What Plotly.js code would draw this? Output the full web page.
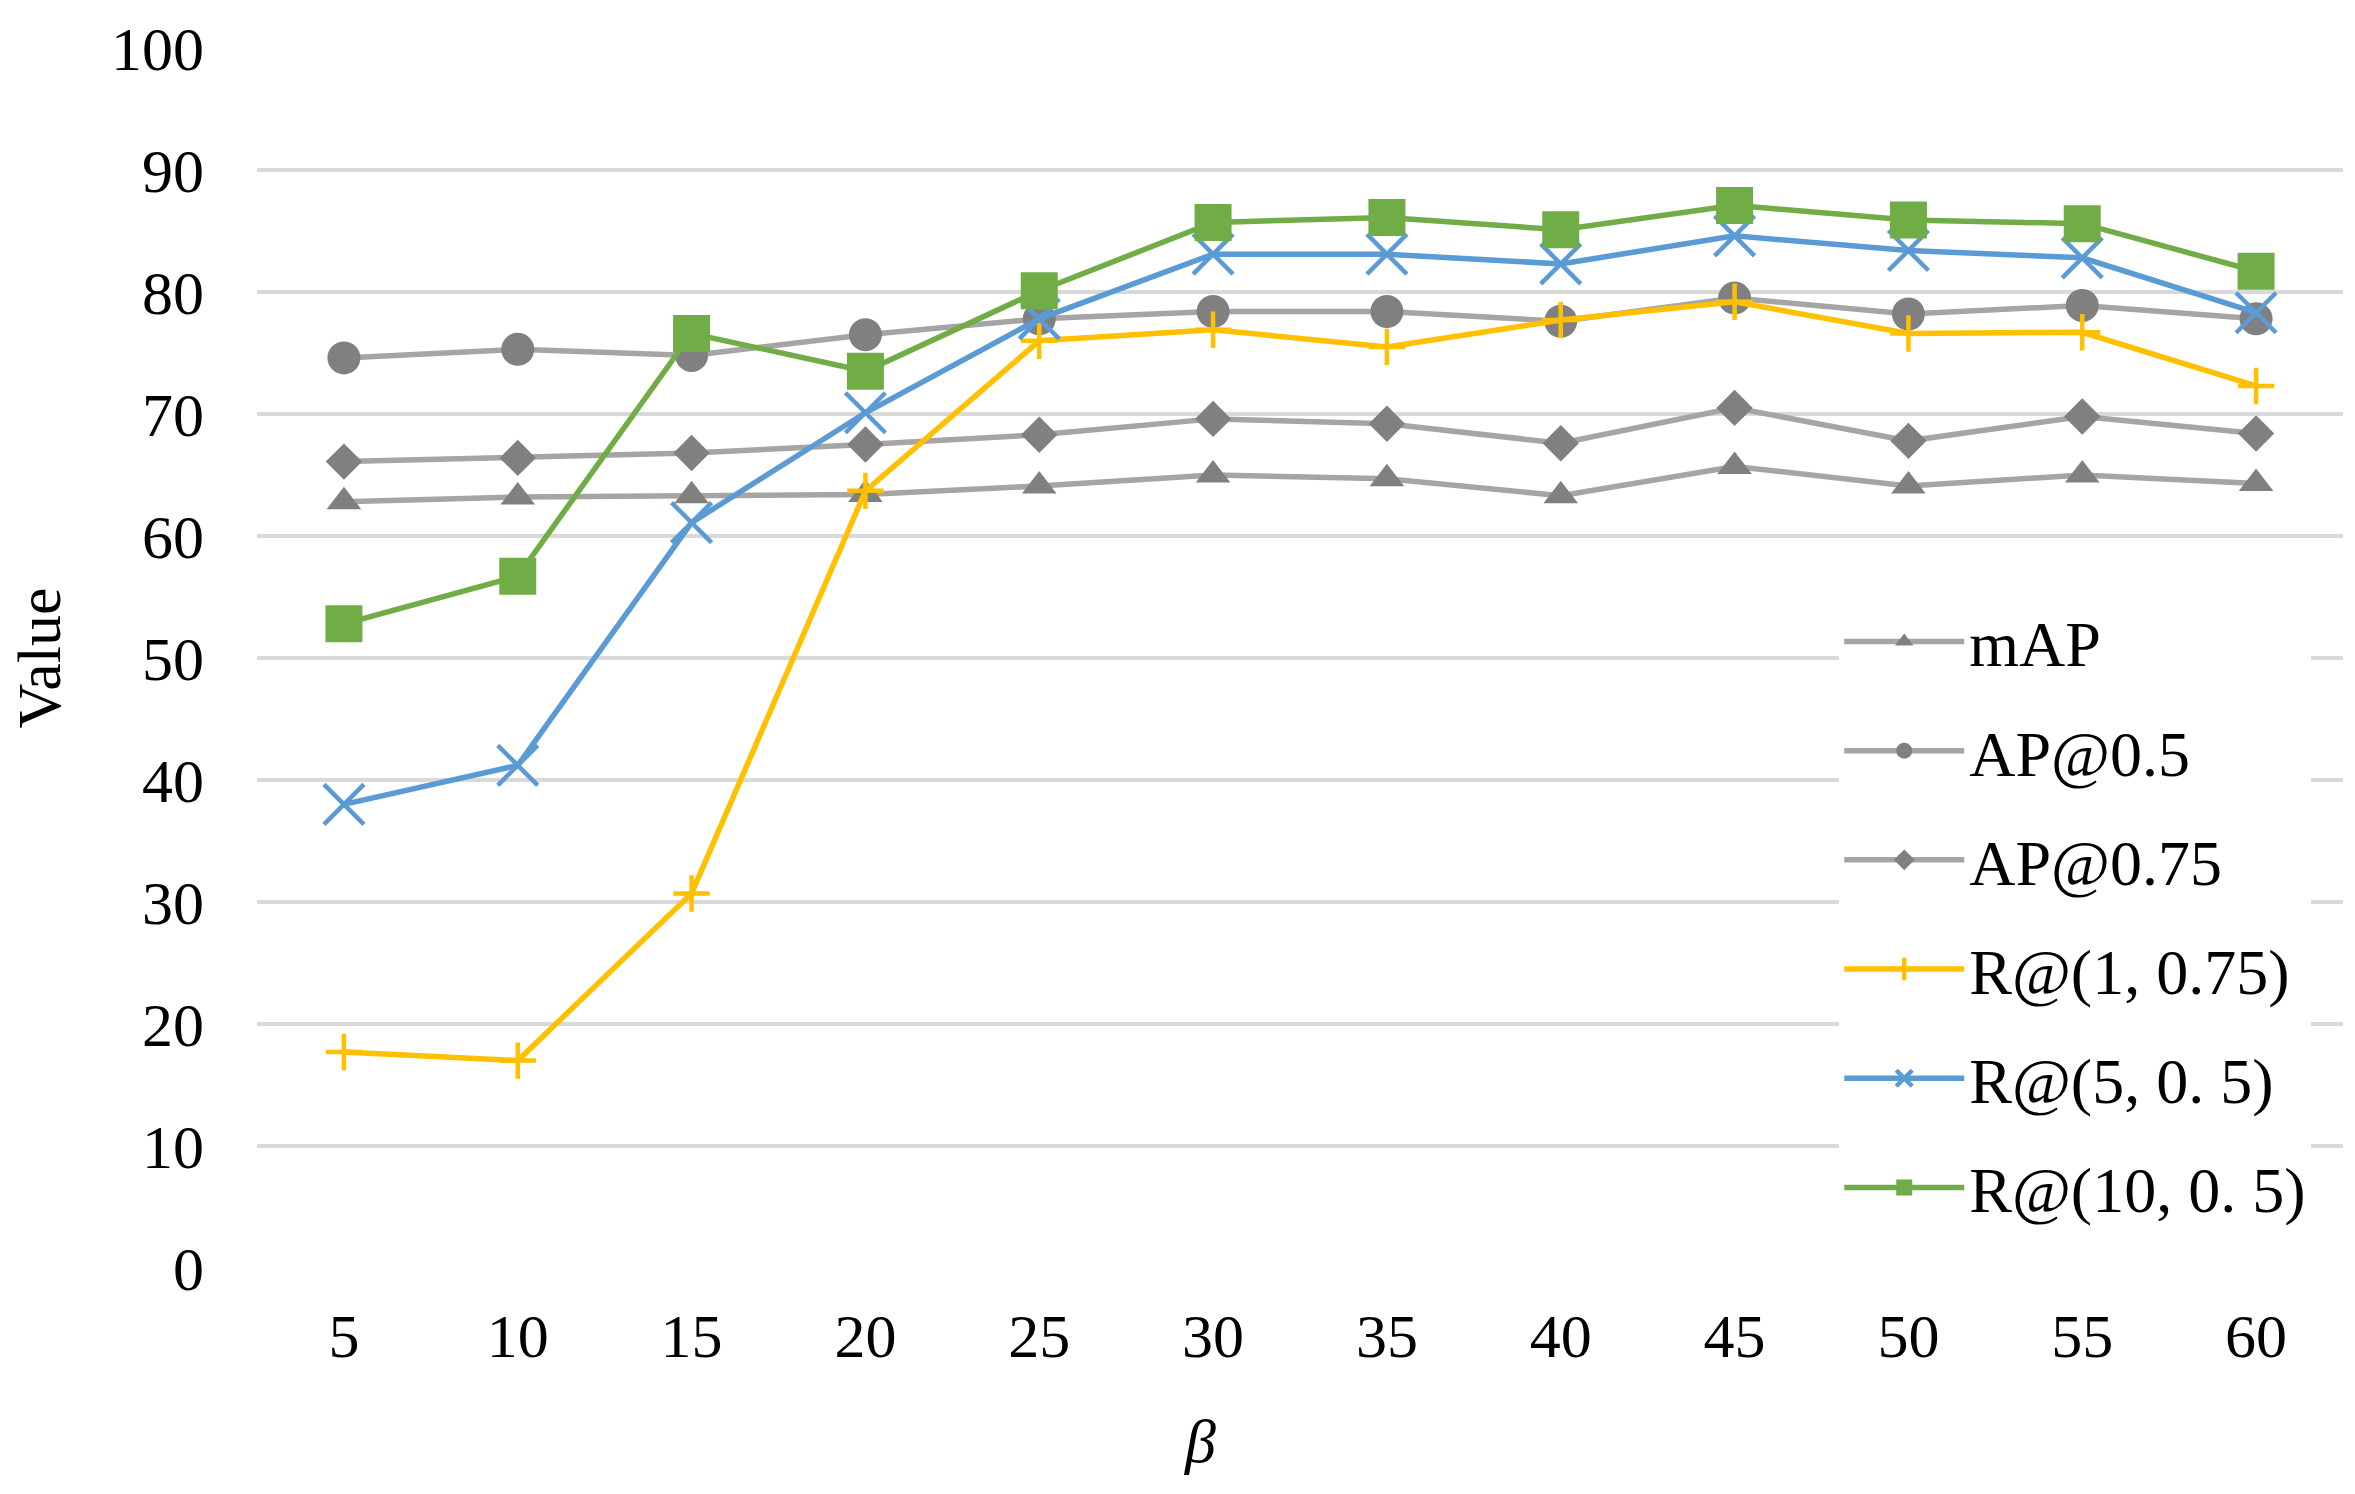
<!DOCTYPE html>
<html>
<head>
<meta charset="utf-8">
<script src="https://cdn.plot.ly/plotly-3.0.1.min.js"></script>
<style>html,body{margin:0;padding:0;background:#fff;}#chart{width:2355px;height:1494px;}</style>
</head>
<body>
<div id="chart"></div>
<script>
const betaValues = ["5","10","15","20","25","30","35","40","45","50","55","60"];
const mAP      = [62.8, 63.2, 63.3, 63.4, 64.1, 65.0, 64.7, 63.3, 65.7, 64.1, 65.0, 64.3];
const AP50     = [74.6, 75.3, 74.8, 76.5, 77.8, 78.4, 78.4, 77.6, 79.5, 78.2, 78.9, 77.8];
const AP75     = [66.1, 66.4, 66.8, 67.5, 68.3, 69.6, 69.2, 67.6, 70.5, 67.8, 69.8, 68.4];
const R1_075   = [17.7, 17.0, 30.7, 63.7, 76.0, 76.9, 75.5, 77.7, 79.2, 76.6, 76.7, 72.3];
const R5_05    = [38.0, 41.2, 61.1, 70.1, 77.8, 83.1, 83.1, 82.3, 84.6, 83.4, 82.8, 78.3];
const R10_05   = [52.8, 56.7, 76.6, 73.5, 80.1, 85.7, 86.1, 85.1, 87.1, 85.9, 85.6, 81.7];
const seriesNames = ["mAP", "AP@0.5", "AP@0.75", "R@(1, 0.75)", "R@(5, 0. 5)", "R@(10, 0. 5)"];
const yTickVals = [0,10,20,30,40,50,60,70,80,90,100];
const xTitle = "β";
const yTitle = "Value";

const FONT = "Liberation Serif, Times New Roman, serif";
const grayLine = "#A5A5A5", grayMarker = "#808080";

function mk(name, y, lineColor, marker, group) {
  return {
    type: "scatter", mode: "lines+markers", name: name, x: betaValues, y: y,
    line: {color: lineColor, width: 5.5}, marker: marker, legendgroup: group
  };
}

const traces = [
  mk(seriesNames[0], mAP, grayLine, {symbol: "triangle-up", size: 30, color: grayMarker}, "g1"),
  mk(seriesNames[1], AP50, grayLine, {symbol: "circle", size: 33, color: grayMarker}, "g2"),
  mk(seriesNames[2], AP75, grayLine, {symbol: "diamond", size: 28, color: grayMarker}, "g3"),
  mk(seriesNames[3], R1_075, "#FFC000", {symbol: "cross-thin", size: 26, color: "#FFC000", line: {color: "#FFC000", width: 4.5}}, "g4"),
  mk(seriesNames[4], R5_05, "#5B9BD5", {symbol: "x-thin", size: 40, color: "#5B9BD5", line: {color: "#5B9BD5", width: 4.5}}, "g5"),
  mk(seriesNames[5], R10_05, "#70AD47", {symbol: "square", size: 37, color: "#70AD47"}, "g6")
];

const layout = {
  width: 2355, height: 1494,
  margin: {l: 257, r: 12, t: 48, b: 226},
  paper_bgcolor: "#fff", plot_bgcolor: "#fff",
  font: {family: FONT, size: 62, color: "#000"},
  showlegend: true,
  legend: {
    x: 0.7585, xanchor: "left", y: 0.553, yanchor: "top",
    bgcolor: "#fff", borderwidth: 0,
    font: {family: FONT, size: 64, color: "#000"},
    traceorder: "grouped", tracegroupgap: 23, itemwidth: 120
  },
  xaxis: {
    type: "category", range: [-0.5, 11.5],
    showgrid: false, zeroline: false, showline: false, ticks: "",
    tickfont: {family: FONT, size: 62, color: "#000"},
    ticklabelstandoff: 26
  },
  yaxis: {
    range: [0, 100], tickvals: yTickVals, showgrid: true,
    gridcolor: "#D9D9D9", gridwidth: 3.5, zeroline: false, showline: false, ticks: "",
    tickfont: {family: FONT, size: 62, color: "#000"},
    ticklabelstandoff: 52,
    title: {text: yTitle, font: {family: FONT, size: 62, color: "#000"}, standoff: 30}
  },
  annotations: [{
    text: "<i>" + xTitle + "</i>", xref: "paper", yref: "paper",
    x: 0.452, y: -0.142, xanchor: "center", yanchor: "middle", showarrow: false,
    font: {family: FONT, size: 62, color: "#000"}
  }]
};

Plotly.newPlot("chart", traces, layout, {staticPlot: true, displayModeBar: false});
</script>
</body>
</html>
